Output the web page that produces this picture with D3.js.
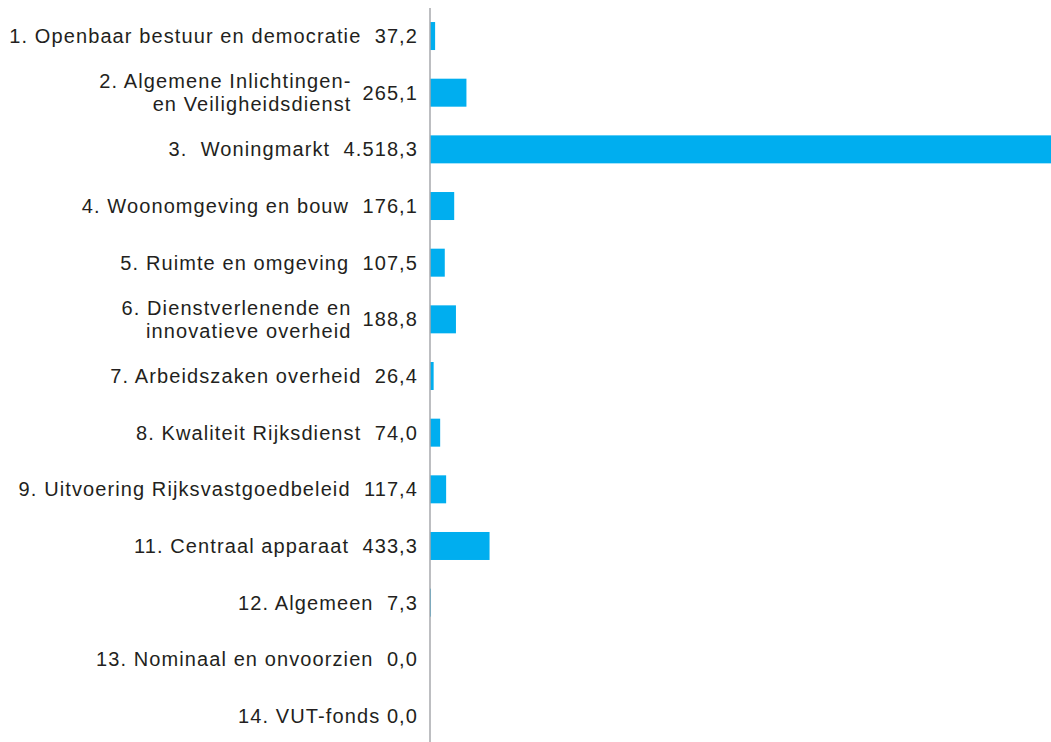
<!DOCTYPE html>
<html>
<head>
<meta charset="utf-8">
<script src="https://cdn.jsdelivr.net/npm/d3@7"></script>
<style>
  body { margin: 0; background: #fff; }
  text { font-family: "Liberation Sans", Arial, sans-serif; fill: #231f20; letter-spacing: 1.1px; }
</style>
</head>
<body>
<script>
// categories (\n marks a line break in the label), separator between label and value
var categories = [
  "1. Openbaar bestuur en democratie",
  "2. Algemene Inlichtingen-\nen Veiligheidsdienst",
  "3.  Woningmarkt",
  "4. Woonomgeving en bouw",
  "5. Ruimte en omgeving",
  "6. Dienstverlenende en\ninnovatieve overheid",
  "7. Arbeidszaken overheid",
  "8. Kwaliteit Rijksdienst",
  "9. Uitvoering Rijksvastgoedbeleid",
  "11. Centraal apparaat",
  "12. Algemeen",
  "13. Nominaal en onvoorzien",
  "14. VUT-fonds"
];
var separators = ["  ", "", "  ", "  ", "  ", "", "  ", "  ", "  ", "  ", "  ", "  ", " "];
var values = [37.2, 265.1, 4518.3, 176.1, 107.5, 188.8, 26.4, 74.0, 117.4, 433.3, 7.3, 0.0, 0.0];

var width = 1051, height = 742;
var fontSize = 20;

var nl = d3.formatLocale({decimal: ",", thousands: ".", grouping: [3], currency: ["€", ""]});
var fmt = nl.format(",.1f");

var svg = d3.select("body").append("svg")
  .attr("width", width)
  .attr("height", height);

var x = d3.scaleLinear()
  .domain([0, d3.max(values)])
  .range([430, width]);

var y = d3.scaleBand()
  .domain(categories)
  .range([7.7, 744.3])
  .paddingInner(0.506)
  .paddingOuter(0.253);

// bars
svg.selectAll("rect.bar")
  .data(values)
  .enter()
  .append("rect")
  .attr("class", "bar")
  .attr("x", x(0))
  .attr("y", function (d, i) { return y(categories[i]); })
  .attr("width", function (d) { return x(d) - x(0); })
  .attr("height", y.bandwidth())
  .attr("fill", "#00aeef");

// axis line
svg.append("line")
  .attr("x1", x(0)).attr("x2", x(0))
  .attr("y1", 8).attr("y2", height)
  .attr("stroke", "#a7a9ac")
  .attr("stroke-width", 1.5);

var textRight = 418;

categories.forEach(function (c, i) {
  var cy = y(c) + y.bandwidth() / 2;
  var lines = c.split("\n");
  if (lines.length === 1) {
    svg.append("text")
      .attr("x", textRight)
      .attr("y", cy)
      .attr("dy", "0.35em")
      .attr("text-anchor", "end")
      .attr("font-size", fontSize)
      .style("white-space", "pre")
      .text(c + separators[i] + fmt(values[i]));
  } else {
    var v = svg.append("text")
      .attr("x", textRight)
      .attr("y", cy)
      .attr("dy", "0.35em")
      .attr("text-anchor", "end")
      .attr("font-size", fontSize)
      .text(fmt(values[i]));
    var vw = v.node().getComputedTextLength();
    var t = svg.append("text")
      .attr("text-anchor", "end")
      .attr("font-size", fontSize);
    lines.forEach(function (l, j) {
      t.append("tspan")
        .attr("x", textRight - vw - 11)
        .attr("y", cy + (j - (lines.length - 1) / 2) * 23)
        .attr("dy", "0.35em")
        .text(l);
    });
  }
});
</script>
</body>
</html>
